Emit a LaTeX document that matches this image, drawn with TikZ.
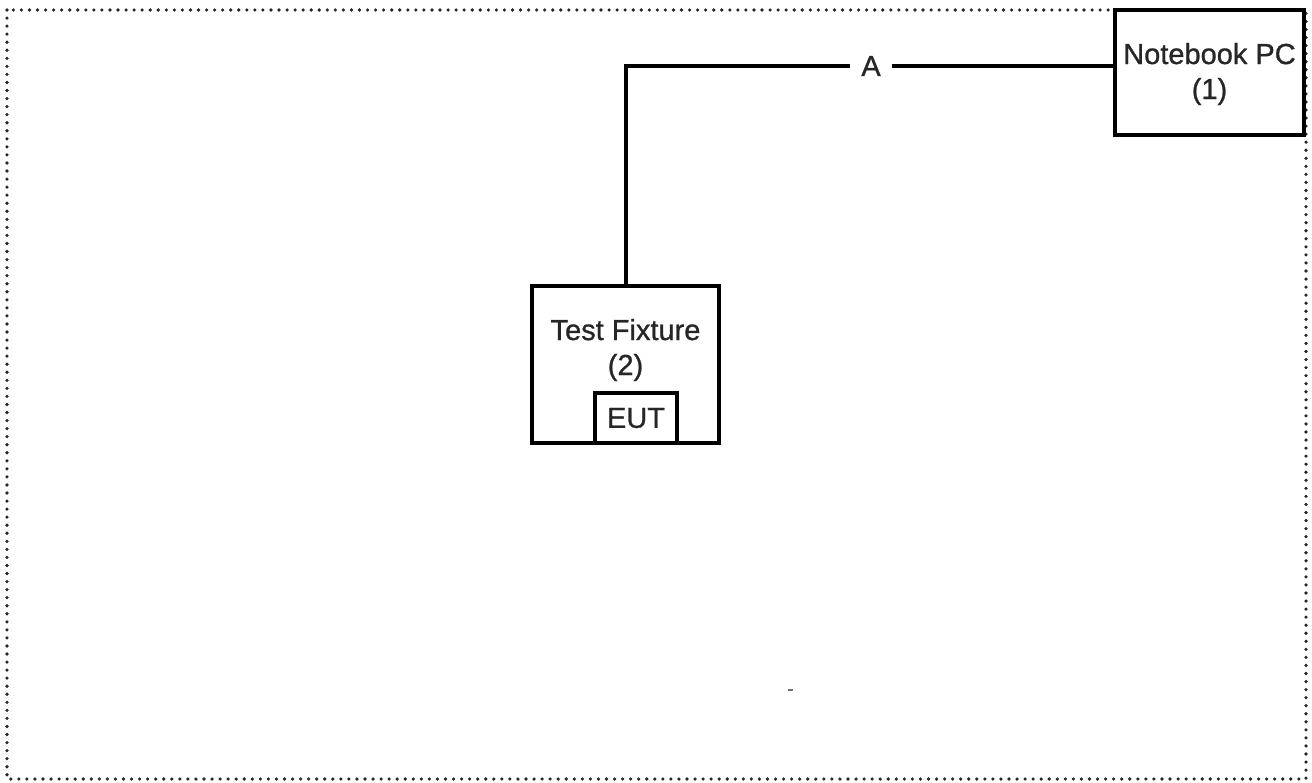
\documentclass[tikz,border=0pt]{standalone}
\usepackage{fontspec}
\setmainfont{Liberation Sans}[FakeBold=0.9]
\begin{document}
\begin{tikzpicture}[x=1pt,y=-1pt,
  box/.style={draw=black,line width=3.2pt,rectangle,inner sep=0pt,fill=white},
  lbl/.style={font=\fontsize{29}{35}\selectfont,align=center,inner sep=0pt,text=black!85},
  wire/.style={draw=black,line width=3.2pt}]
\useasboundingbox (0,0) rectangle (1312,782);
\draw[line width=3.6pt,line cap=round,dash pattern=on 0pt off 8.05pt,black!85] (7,10) rectangle (1306,779);
% Notebook PC
\node[box,minimum width=189pt,minimum height=125pt] (nb) at (1209.5,72.5) {};
\node[lbl] (nbt) at (1209.5,74) {Notebook PC\\(1)};
% Test fixture
\node[box,minimum width=187pt,minimum height=157pt] (fix) at (625.5,364.5) {};
\node[lbl] (fixt) at (625.5,350) {Test Fixture\\(2)};
\node[box,minimum width=82pt,minimum height=50pt] (eut) at (636,418) {};
\node[lbl] (eutt) at (636,418) {EUT};
% connector
\coordinate (bend) at (626,66);
\coordinate (nbin) at (nb.west |- bend);
\draw[wire,line join=miter] (fix.north -| bend) -- (bend) -- (nbin);
\node[lbl,fill=white,inner xsep=11pt,inner ysep=2pt] (a) at (871,66) {A};
% speck
\fill[black!55] (788,689) rectangle (793,691);
\end{tikzpicture}
\end{document}
